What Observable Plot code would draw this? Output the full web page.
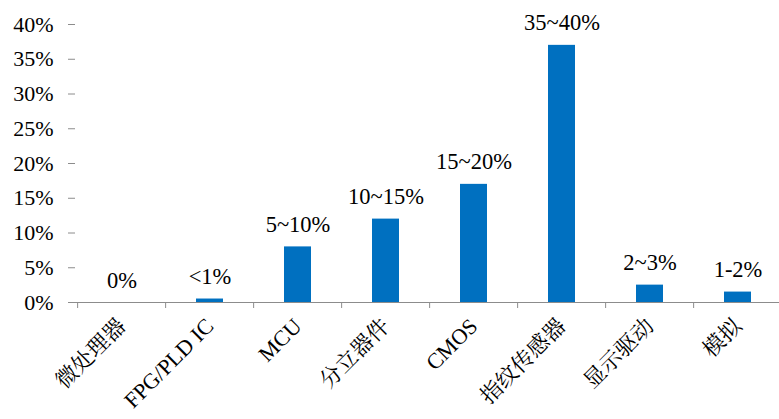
<!DOCTYPE html>
<html>
<head>
<meta charset="utf-8">
<script src="https://cdn.jsdelivr.net/npm/d3@7"></script>
<script src="https://cdn.jsdelivr.net/npm/@observablehq/plot@0.6"></script>
<style>
  html, body { margin: 0; padding: 0; background: #fff; }
</style>
</head>
<body>
<div id="chart"></div>
<script>
// Chip categories and their share (%)
const categories = ["微处理器", "FPG/PLD IC", "MCU", "分立器件", "CMOS", "指纹传感器", "显示驱动", "模拟"];
const shares = [0, 0.5, 8, 12, 17, 37, 2.5, 1.5];
const shareLabels = ["0%", "<1%", "5~10%", "10~15%", "15~20%", "35~40%", "2~3%", "1-2%"];
const yTicks = [0, 5, 10, 15, 20, 25, 30, 35, 40];

const data = categories.map((c, i) => ({category: c, share: shares[i], label: shareLabels[i]}));

const font = "'Liberation Serif', 'Noto Serif CJK SC', serif";
const axisGray = "#8c8c8c";
const blue = "#0070C0";

const width = 779, height = 419;
const marginLeft = 75, marginTop = 24, marginBottom = 117;
const xRange = [75, 785];
const step = (xRange[1] - xRange[0]) / categories.length;
const pxPerUnit = (height - marginTop - marginBottom) / 40;

const chart = Plot.plot({
  width, height,
  marginLeft, marginTop, marginBottom, marginRight: 0,
  x: {domain: categories, range: xRange, paddingInner: 0.69, paddingOuter: 0.345, label: null},
  y: {domain: [0, 40], label: null},
  marks: [
    Plot.barY(data, {x: "category", y: "share", fill: blue}),
    Plot.text(data, {
      x: "category", y: "share", text: "label",
      lineAnchor: "bottom", dy: -15, fontSize: 22.5, fontFamily: font, fill: "#000"
    }),
    // y axis with outward ticks
    Plot.axisY({
      ticks: yTicks, tickFormat: d => d + "%", tickSize: 7, tickPadding: 15,
      stroke: axisGray, fontSize: 22, fontFamily: font, fill: "#000", label: null
    }),
    Plot.ruleX([0], {x: () => null, frameAnchor: "left", stroke: axisGray}),
    // x axis: baseline, boundary ticks and rotated category labels
    Plot.ruleY([0], {stroke: axisGray}),
    Plot.ruleX(categories, {
      x: d => d, dx: -step / 2, y1: 0, y2: -6 / pxPerUnit, stroke: axisGray
    }),
    Plot.axisX({
      tickSize: 0, tickRotate: -45, tickPadding: 20, fontSize: 22, fontFamily: font, fill: "#000", label: null
    })
  ]
});

document.getElementById("chart").appendChild(chart);
</script>
</body>
</html>
